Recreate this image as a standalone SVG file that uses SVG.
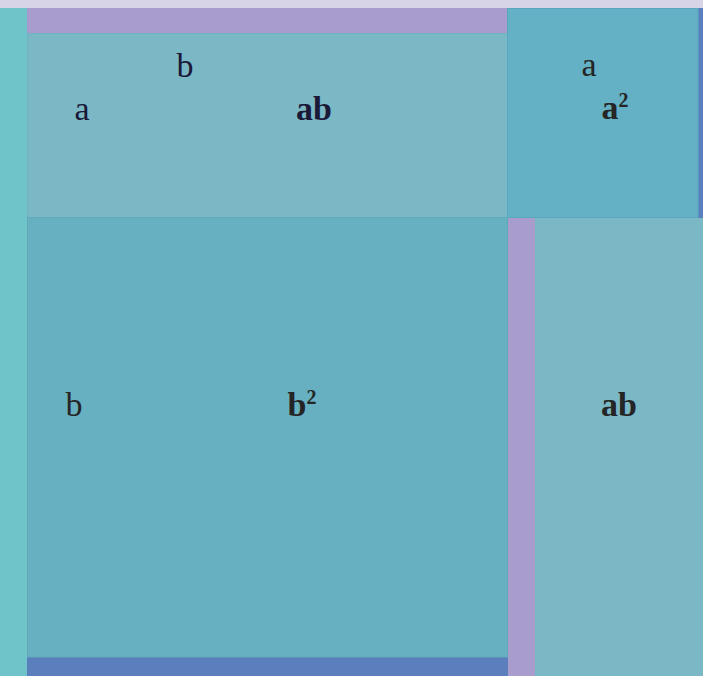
<svg xmlns="http://www.w3.org/2000/svg" width="703" height="676" viewBox="0 0 703 676">
<style>
.lbl{font-family:"Liberation Serif","Times New Roman",serif;font-size:34px;text-anchor:middle}
.b{font-weight:bold}
.nv{fill:#1b1838}
.dk{fill:#252525}
.sup{font-size:20px}
</style>
<g id="background">
<rect x="0" y="0" width="703" height="8" fill="#d8d4e8"/>
<rect x="0" y="8" width="27" height="668" fill="#6fc4ca"/>
<rect x="507" y="218" width="2" height="458" fill="#67b0c1"/>
</g>
<g id="strip-top"><rect x="27" y="8" width="480" height="25" fill="#a89ccc"/></g>
<g id="strip-right"><rect x="698" y="8" width="5" height="210" fill="#5b80c0"/></g>
<g id="strip-bottom"><rect x="27" y="657" width="481" height="19" fill="#5b7fbd"/></g>
<g id="strip-mid"><rect x="508" y="218" width="27" height="458" fill="#a89ccc"/></g>
<g id="node-ab-top">
<rect x="27.5" y="33.5" width="480" height="184" fill="#7ab8c6" stroke="#70b2c2" stroke-width="1"/>
<text class="lbl nv" x="185" y="77">b</text>
<text class="lbl nv" x="82" y="120">a</text>
<text class="lbl b nv" x="314" y="120">ab</text>
</g>
<g id="node-a2">
<rect x="507.5" y="8.5" width="190.5" height="209" fill="#64b0c4" stroke="#5aa8be" stroke-width="1"/>
<text class="lbl dk" x="589" y="76">a</text>
<text class="lbl b dk" x="615" y="119">a<tspan class="sup" dy="-12">2</tspan></text>
</g>
<g id="node-b2">
<rect x="27.5" y="217.5" width="480" height="439.5" fill="#67b0c1" stroke="#60aabb" stroke-width="1"/>
<text class="lbl dk" x="74" y="416">b</text>
<text class="lbl b dk" x="302" y="416">b<tspan class="sup" dy="-12">2</tspan></text>
</g>
<g id="node-ab-right">
<rect x="535" y="218" width="168" height="458" fill="#7ab8c6"/>
<text class="lbl b dk" x="619" y="416">ab</text>
</g>
<g id="connectors"></g>
</svg>
